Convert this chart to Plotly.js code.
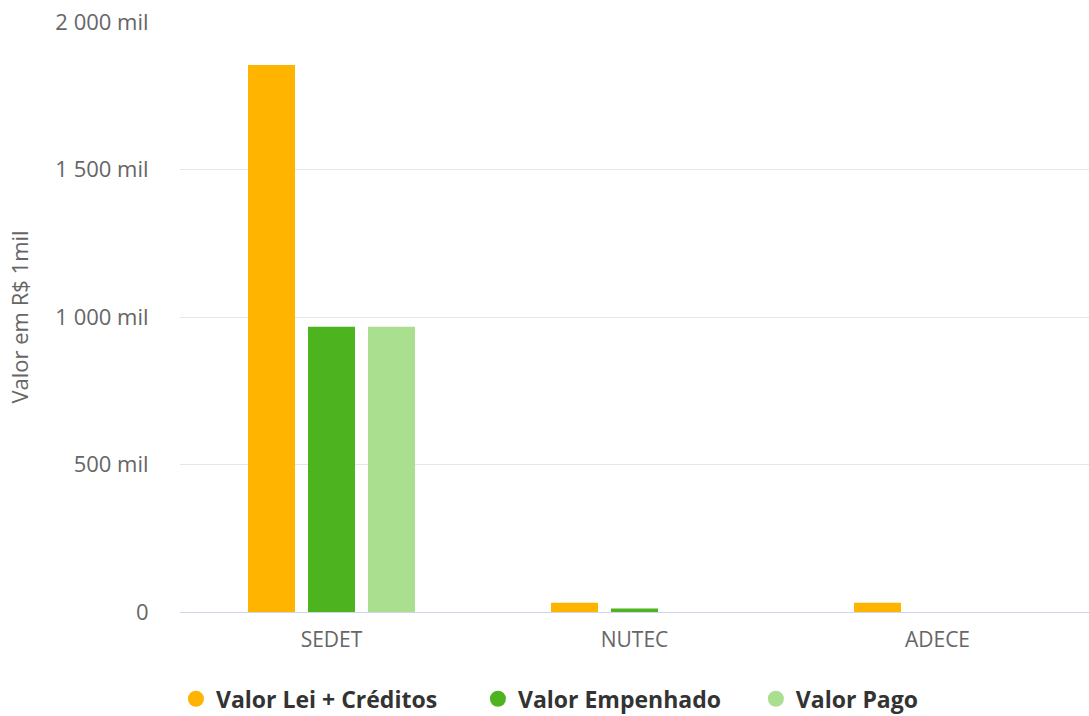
<!DOCTYPE html>
<html>
<head>
<meta charset="utf-8">
<script src="https://cdn.plot.ly/plotly-3.0.1.min.js"></script>
<style>html,body{margin:0;padding:0;background:#fff}#chart{width:1089px;height:716px}</style>
</head>
<body>
<div id="chart"></div>
<script>
const categories = ["SEDET", "NUTEC", "ADECE"];
const valorLei = [1854, 31, 31];
const valorEmpenhado = [967, 12, 0];
const valorPago = [967, 0, 0];
const seriesNames = ["Valor Lei + Créditos", "Valor Empenhado", "Valor Pago"];
const seriesColors = ["#FFB400", "#4DB31F", "#A9DF8F"];
const tickVals = [0, 500, 1000, 1500, 2000];
const tickText = ["0", "500 mil", "1 000 mil", "1 500 mil", "2 000 mil"];

const seriesValues = [valorLei, valorEmpenhado, valorPago];
const traces = [];
seriesValues.forEach((vals, i) => {
  traces.push({
    type: "bar", x: categories, y: vals, name: seriesNames[i],
    marker: {color: seriesColors[i]}, showlegend: false, hoverinfo: "x+y+name"
  });
});
const pads = ["\u00a0\u00a0\u00a0\u00a0\u00a0\u00a0", "\u00a0\u00a0\u00a0\u00a0\u00a0", ""];
seriesNames.forEach((n, i) => {
  traces.push({
    type: "scatter", mode: "markers", x: [null], y: [null],
    name: n + pads[i],
    marker: {color: seriesColors[i], size: 20, symbol: "circle"}, showlegend: true
  });
});

const layout = {
  width: 1089, height: 716,
  margin: {l: 180, r: 0, t: 22, b: 104},
  paper_bgcolor: "#ffffff", plot_bgcolor: "#ffffff",
  font: {family: "Open Sans, sans-serif", color: "#666666", size: 21},
  barmode: "group", bargap: 0.406, bargroupgap: 0.217,
  xaxis: {
    type: "category", showgrid: false, showline: true, linecolor: "#CCD6EB", linewidth: 1,
    ticks: "outside", ticklen: 9, tickcolor: "rgba(0,0,0,0)",
    tickfont: {size: 21, color: "#666666"}, zeroline: false, fixedrange: true
  },
  yaxis: {
    range: [0, 2000], tickvals: tickVals, ticktext: tickText,
    showgrid: true, gridcolor: "#E6E6E6", gridwidth: 1, zeroline: false, showline: false,
    ticks: "outside", ticklen: 26, tickcolor: "rgba(0,0,0,0)",
    tickfont: {size: 22, color: "#666666"},
    title: {text: "Valor em R$ 1mil", font: {size: 22, color: "#666666"}, standoff: 20},
    automargin: false, fixedrange: true
  },
  legend: {
    orientation: "h", x: 0.505, xanchor: "center", xref: "container",
    y: 0.024, yanchor: "middle", yref: "container",
    font: {size: 23, color: "#333333", family: "Open Sans, sans-serif", weight: "bold"},
    itemsizing: "trace", tracegroupgap: 0
  },
  showlegend: true
};
Plotly.newPlot("chart", traces, layout, {displayModeBar: false});
</script>
</body>
</html>
